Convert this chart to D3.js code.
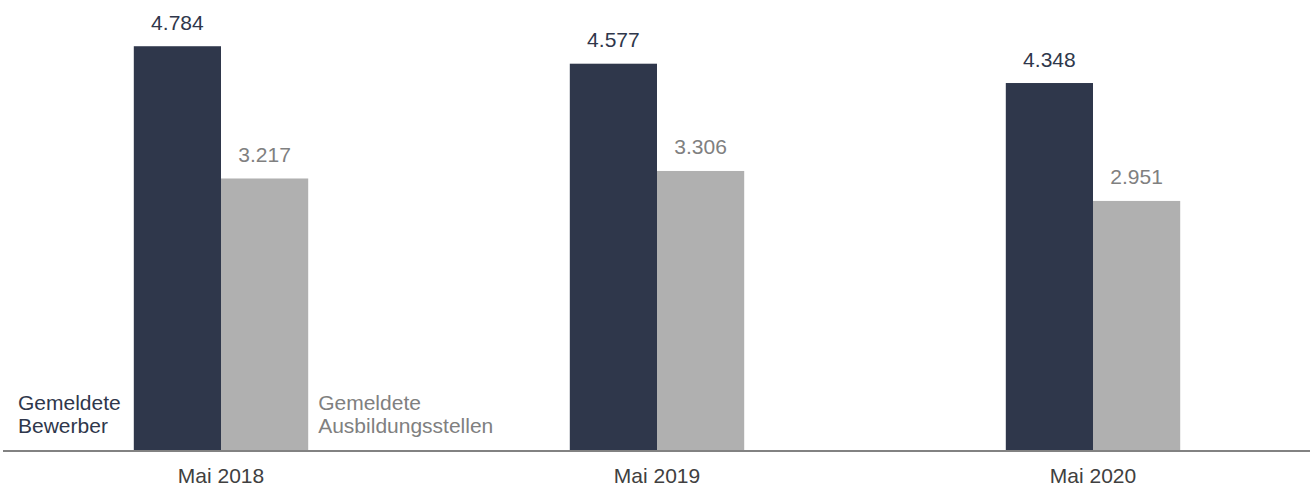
<!DOCTYPE html>
<html>
<head>
<meta charset="utf-8">
<script src="https://cdn.jsdelivr.net/npm/d3@7"></script>
<style>
  body { margin: 0; background: #fff; }
  svg text { font-family: "Liberation Sans", Arial, sans-serif; }
</style>
</head>
<body>
<svg id="chart" width="1310" height="486"></svg>
<script>
// data
var categories = ["Mai 2018", "Mai 2019", "Mai 2020"];
var seriesKeys = ["bewerber", "stellen"];
var seriesNames = ["Gemeldete Bewerber", "Gemeldete Ausbildungsstellen"];
var bewerber = [4784, 4577, 4348];
var stellen = [3217, 3306, 2951];

function drawChart() {
  var svg = d3.select("#chart"),
    baseline = 450,
    fontSize = "21px";

  var data = categories.map(function (c, i) {
    return { cat: c, bewerber: bewerber[i], stellen: stellen[i] };
  });

  var x0 = d3.scaleBand()
    .domain(categories)
    .range([3, 1311])
    .paddingInner(0.6)
    .paddingOuter(0.3);

  var x1 = d3.scaleBand()
    .domain(seriesKeys)
    .range([0, x0.bandwidth()]);

  var y = d3.scaleLinear().domain([0, 5000]).range([baseline, 28]);

  var fill = d3.scaleOrdinal().domain(seriesKeys).range(["#2f374b", "#b0b0b0"]);
  var labelColor = d3.scaleOrdinal().domain(seriesKeys).range(["#2f374b", "#808080"]);

  var groups = svg.append("g")
    .selectAll("g")
    .data(data)
    .enter()
    .append("g")
    .attr("transform", function (d) { return "translate(" + x0(d.cat) + ",0)"; });

  var cells = groups.selectAll("g")
    .data(function (d) {
      return seriesKeys.map(function (k) { return { key: k, value: d[k] }; });
    })
    .enter()
    .append("g");

  cells.append("rect")
    .attr("x", function (d) { return x1(d.key); })
    .attr("y", function (d) { return y(d.value); })
    .attr("width", x1.bandwidth())
    .attr("height", function (d) { return baseline - y(d.value); })
    .attr("fill", function (d) { return fill(d.key); });

  cells.append("text")
    .attr("x", function (d) { return x1(d.key) + x1.bandwidth() / 2; })
    .attr("y", function (d) { return y(d.value) - 16.5; })
    .attr("text-anchor", "middle")
    .attr("fill", function (d) { return labelColor(d.key); })
    .style("font-size", fontSize)
    .text(function (d) { return d3.format(",")(d.value).replace(/,/g, "."); });

  // x axis
  var axis = svg.append("g")
    .attr("transform", "translate(0," + (baseline + 1) + ")")
    .call(d3.axisBottom(x0).tickSize(0).tickPadding(17));
  axis.select(".domain")
    .attr("d", "M3,0H1310")
    .attr("stroke", "#595959")
    .attr("stroke-width", 1.6);
  axis.selectAll(".tick text")
    .attr("fill", "#404040")
    .style("font-size", fontSize)
    .style("font-family", "Liberation Sans, Arial, sans-serif");

  // inline legend
  var first = x0(categories[0]);
  var legend = [
    { lines: ["Gemeldete", "Bewerber"], x: 18, color: labelColor("bewerber") },
    { lines: ["Gemeldete", "Ausbildungsstellen"], x: first + x0.bandwidth() + 10, color: labelColor("stellen") }
  ];
  legend.forEach(function (l) {
    var t = svg.append("text")
      .attr("x", l.x)
      .attr("y", 410)
      .attr("fill", l.color)
      .style("font-size", fontSize);
    l.lines.forEach(function (s, i) {
      t.append("tspan").attr("x", l.x).attr("dy", i === 0 ? 0 : 23).text(s);
    });
  });
}

drawChart();
</script>
</body>
</html>
